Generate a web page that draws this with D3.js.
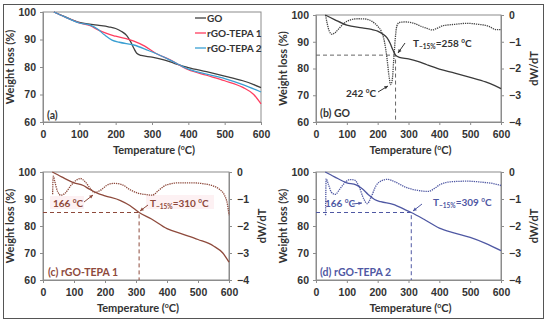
<!DOCTYPE html>
<html>
<head>
<meta charset="utf-8">
<script src="https://cdn.jsdelivr.net/npm/d3@7"></script>
<style>
  body { margin: 0; background: #fff; }
  svg { display: block; font-family: Lato, "Open Sans", sans-serif; font-weight: bold; }
  .tick text { font-size: 10.5px; fill: #333; }
</style>
</head>
<body>
<svg id="chart" width="550" height="326"></svg>
<script>
const xTicks = [0, 100, 200, 300, 400, 500, 600];
const yTicks = [60, 70, 80, 90, 100];
const dTicks = [0, -1, -2, -3, -4];

// TGA curves [temperature, weight %]
const tgaGO = [[30,100],[60,98.3],[100,96.2],[150,95.2],[180,94.6],[200,94],[215,93],[230,91.5],[240,89.5],[250,86.8],[258,85],[270,84.2],[300,83.6],[330,82.7],[360,81.4],[400,79.8],[450,78.3],[500,76.7],[550,75],[580,73.6],[600,72.5]];
const tgaT1 = [[30,100],[60,98.2],[100,96],[130,95],[150,93.6],[175,92.2],[200,91.2],[250,89.4],[280,87.6],[310,85],[350,82.6],[400,79],[450,77],[500,75],[550,72.6],[580,70],[600,66.6]];
const tgaT2 = [[30,100],[60,98.2],[100,96],[130,95.2],[150,93.8],[170,91.6],[190,89.8],[210,89],[250,88],[290,86],[309,85],[350,82.5],[400,79.2],[450,77.4],[500,75.8],[550,73.6],[600,70.9]];

// DTG curves [temperature, dW/dT]
const dtgGO = [[31,0],[36,-0.3],[43,-0.6],[52,-0.72],[62,-0.66],[75,-0.5],[92,-0.3],[112,-0.18],[135,-0.14],[160,-0.15],[182,-0.24],[200,-0.42],[212,-0.62],[222,-1.0],[230,-1.6],[237,-2.3],[242,-2.6],[247,-2.45],[252,-1.7],[257,-0.9],[262,-0.42],[270,-0.28],[290,-0.26],[315,-0.3],[340,-0.42],[360,-0.5],[377,-0.56],[392,-0.5],[412,-0.4],[450,-0.35],[490,-0.31],[520,-0.34],[560,-0.42],[585,-0.55],[600,-0.55]];
const dtgT1 = [[31,-0.82],[33,-0.15],[38,-0.35],[47,-0.72],[58,-0.86],[72,-0.78],[90,-0.5],[108,-0.3],[120,-0.24],[135,-0.35],[152,-0.6],[166,-0.76],[185,-0.68],[205,-0.5],[228,-0.42],[255,-0.47],[280,-0.65],[305,-0.78],[335,-0.84],[352,-0.86],[375,-0.66],[400,-0.47],[440,-0.4],[480,-0.4],[520,-0.44],[550,-0.52],[570,-0.65],[585,-0.85],[595,-1.2],[600,-1.6]];
const dtgT2 = [[31,-1.6],[33,-0.25],[40,-0.45],[50,-0.75],[62,-0.83],[78,-0.62],[95,-0.38],[110,-0.28],[125,-0.3],[140,-0.55],[155,-1.0],[166,-1.17],[178,-0.95],[195,-0.5],[212,-0.33],[232,-0.27],[255,-0.36],[290,-0.56],[330,-0.68],[365,-0.72],[385,-0.6],[405,-0.45],[440,-0.36],[490,-0.34],[540,-0.38],[580,-0.44],[600,-0.5]];

const legendNames = ["GO", "rGO-TEPA 1", "rGO-TEPA 2"];

const svg = d3.select("#chart");
const axisColor = "#8c8c8c";

svg.append("rect")
  .attr("x", 3.5).attr("y", 4.5).attr("width", 540).attr("height", 314)
  .attr("fill", "none").attr("stroke", "#555").attr("stroke-width", 1);

function makePanel(box, opts) {
  const g = svg.append("g");
  const x = d3.scaleLinear().domain([0, 600]).range([box.x0, box.x1]);
  const y = d3.scaleLinear().domain([60, 100]).range([box.y1, box.y0]);
  const yd = d3.scaleLinear().domain([-4, 0]).range([box.y1, box.y0]);

  // plot border
  g.append("rect")
    .attr("x", box.x0).attr("y", box.y0)
    .attr("width", box.x1 - box.x0).attr("height", box.y1 - box.y0)
    .attr("fill", "none").attr("stroke", axisColor).attr("stroke-width", 1);

  const xa = g.append("g").attr("transform", `translate(0,${box.y1})`)
    .call(d3.axisBottom(x).tickValues(xTicks).tickSize(3).tickPadding(6));
  const ya = g.append("g").attr("transform", `translate(${box.x0},0)`)
    .call(d3.axisLeft(y).tickValues(yTicks).tickSize(3).tickPadding(4));
  [xa, ya].forEach(a => {
    a.select(".domain").attr("stroke", axisColor);
    a.selectAll(".tick line").attr("stroke", axisColor);
  });

  if (opts.right) {
    const ra = g.append("g").attr("transform", `translate(${box.x1},0)`)
      .call(d3.axisRight(yd).tickValues(dTicks).tickSize(3).tickPadding(5)
        .tickFormat(d => d === 0 ? "0" : "\u2212" + Math.abs(d)));
    ra.select(".domain").attr("stroke", axisColor);
    ra.selectAll(".tick line").attr("stroke", axisColor);
    g.append("text")
      .attr("transform", `translate(${box.x1 + 33},${(box.y0 + box.y1) / 2}) rotate(-90)`)
      .attr("text-anchor", "middle").attr("dy", "0.35em")
      .attr("font-size", 11).attr("fill", "#333").text("dW/dT");
  }

  // axis titles
  g.append("text")
    .attr("transform", `translate(${box.x0 - 33},${(box.y0 + box.y1) / 2}) rotate(-90)`)
    .attr("text-anchor", "middle").attr("dy", "0.35em")
    .attr("font-size", 11).attr("fill", "#333").text("Weight loss (%)");
  const xt = g.append("text")
    .attr("x", (box.x0 + box.x1) / 2 + 2).attr("y", box.y1 + 32)
    .attr("text-anchor", "middle").attr("font-size", 11).attr("fill", "#333");
  xt.append("tspan").text("Temperature (");
  xt.append("tspan").attr("font-size", 7).attr("dy", -4).text("o");
  xt.append("tspan").attr("dy", 4).text("C)");

  return { g, x, y, yd };
}

const line = (xs, ys) => d3.line().x(d => xs(d[0])).y(d => ys(d[1])).curve(d3.curveMonotoneX);

function tLabel(g, px, py, val, color, bg) {
  const t = g.append("text").attr("x", px).attr("y", py)
    .attr("font-size", 10).attr("fill", color);
  t.append("tspan").text("T");
  t.append("tspan").attr("font-size", 6.5).attr("dy", 2).text("\u221215%");
  t.append("tspan").attr("dy", -2).text("=" + val + " ");
  t.append("tspan").attr("font-size", 6.5).attr("dy", -4).text("o");
  t.append("tspan").attr("dy", 4).text("C");
  return t;
}
function degLabel(g, px, py, val, color) {
  const t = g.append("text").attr("x", px).attr("y", py)
    .attr("font-size", 10).attr("fill", color);
  t.append("tspan").text(val + " ");
  t.append("tspan").attr("font-size", 6.5).attr("dy", -4).text("o");
  t.append("tspan").attr("dy", 4).text("C");
  return t;
}
function arrow(g, x1, y1, x2, y2, color) {
  g.append("line").attr("x1", x1).attr("y1", y1).attr("x2", x2).attr("y2", y2)
    .attr("stroke", color).attr("stroke-width", 1);
  const ang = Math.atan2(y2 - y1, x2 - x1);
  const s = 4;
  const p = [[x2, y2],
    [x2 - s * Math.cos(ang - 0.45), y2 - s * Math.sin(ang - 0.45)],
    [x2 - s * Math.cos(ang + 0.45), y2 - s * Math.sin(ang + 0.45)]];
  g.append("path").attr("d", "M" + p.join("L") + "Z").attr("fill", color);
}
function refLines(P, temp, color) {
  P.g.append("path")
    .attr("d", `M${P.x(0)},${P.y(85)}H${P.x(temp)}V${P.y(60)}`)
    .attr("fill", "none").attr("stroke", color).attr("stroke-width", 1)
    .attr("stroke-dasharray", "4,3");
}
function dotted(P, data, color) {
  P.g.append("path").attr("d", line(P.x, P.yd)(data))
    .attr("fill", "none").attr("stroke", color).attr("stroke-width", 1.3)
    .attr("stroke-dasharray", "1.3,0.9");
}

// ---- (a) ----
const A = makePanel({ x0: 43, x1: 261, y0: 12, y1: 122 }, {});
const aColors = ["#404040", "#ff3d5f", "#3a9fd2"];
[tgaGO, tgaT1, tgaT2].forEach((s, i) => {
  A.g.append("path").attr("d", line(A.x, A.y)(s))
    .attr("fill", "none").attr("stroke", aColors[i]).attr("stroke-width", 1.3);
});
legendNames.forEach((n, i) => {
  const ly = 18 + i * 15;
  A.g.append("line").attr("x1", 195).attr("x2", 206).attr("y1", ly).attr("y2", ly)
    .attr("stroke", aColors[i]).attr("stroke-width", 1.3);
  A.g.append("text").attr("x", 207).attr("y", ly).attr("dy", "0.35em")
    .attr("font-size", 10).attr("fill", "#333").text(n);
});
A.g.append("text").attr("x", 47).attr("y", 119).attr("font-size", 10.5).attr("fill", "#333").text("(a)");

// ---- (b) ----
const B = makePanel({ x0: 316, x1: 501, y0: 15, y1: 122 }, { right: true });
const bCol = "#3a3a3a";
refLines(B, 258, "#666");
dotted(B, dtgGO, "#444");
B.g.append("path").attr("d", line(B.x, B.y)(tgaGO))
  .attr("fill", "none").attr("stroke", bCol).attr("stroke-width", 1.3);
tLabel(B.g, 413, 47, 258, "#333");
arrow(B.g, 405, 43, 398, 53, "#333");
degLabel(B.g, 346, 97, 242, "#333");
arrow(B.g, 378, 92, 388, 86, "#333");
B.g.append("text").attr("x", 320).attr("y", 117).attr("font-size", 10.5).attr("fill", "#333").text("(b) GO");

// ---- (c) ----
const C = makePanel({ x0: 43, x1: 229, y0: 172, y1: 280 }, { right: true });
const cCol = "#8e4a3c";
C.g.append("rect").attr("x", 50).attr("y", 196).attr("width", 34).attr("height", 13).attr("fill", "#fdf1f3");
C.g.append("rect").attr("x", 146).attr("y", 195).attr("width", 68).attr("height", 14).attr("fill", "#fdf1f3");
refLines(C, 310, cCol);
dotted(C, dtgT1, cCol);
C.g.append("path").attr("d", line(C.x, C.y)(tgaT1))
  .attr("fill", "none").attr("stroke", cCol).attr("stroke-width", 1.3);
degLabel(C.g, 53, 207, 166, cCol);
arrow(C.g, 84, 202, 93, 195, cCol);
tLabel(C.g, 150, 207, 310, cCol);
arrow(C.g, 148, 205, 140, 211, cCol);
C.g.append("text").attr("x", 48).attr("y", 276).attr("font-size", 10.5).attr("fill", cCol).text("(c) rGO-TEPA 1");

// ---- (d) ----
const D = makePanel({ x0: 316, x1: 501, y0: 172, y1: 280 }, { right: true });
const dCol = "#4f58a3";
refLines(D, 309, dCol);
dotted(D, dtgT2, dCol);
D.g.append("path").attr("d", line(D.x, D.y)(tgaT2))
  .attr("fill", "none").attr("stroke", dCol).attr("stroke-width", 1.3);
degLabel(D.g, 325, 207, 166, dCol);
arrow(D.g, 352, 204, 362, 203, dCol);
tLabel(D.g, 433, 206, 309, dCol);
arrow(D.g, 422, 204, 413, 211, dCol);
D.g.append("text").attr("x", 320).attr("y", 276).attr("font-size", 10.5).attr("fill", dCol).text("(d) rGO-TEPA 2");
</script>
</body>
</html>
